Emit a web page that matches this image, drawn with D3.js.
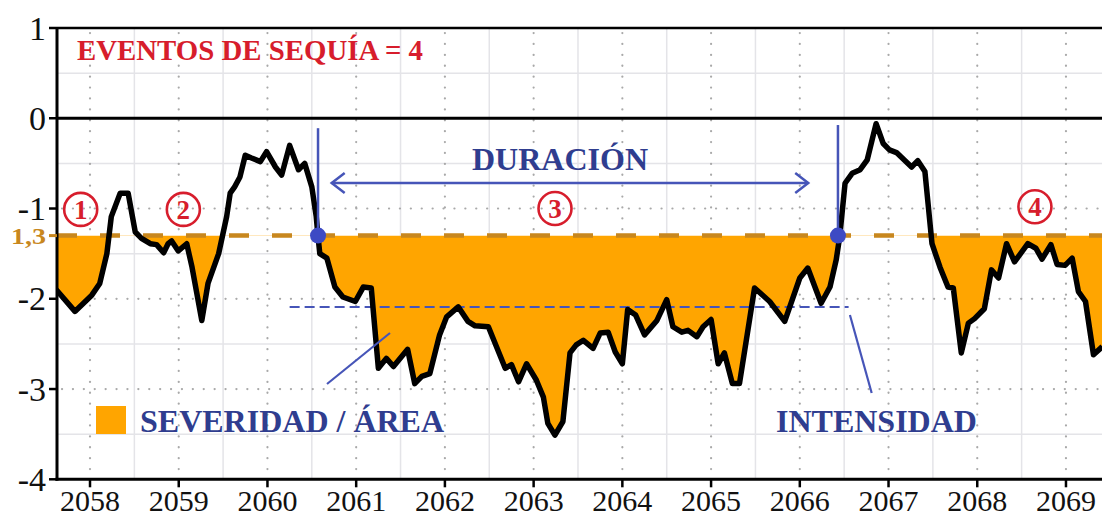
<!DOCTYPE html>
<html><head><meta charset="utf-8">
<script src="https://cdn.jsdelivr.net/npm/d3@7"></script>
<style>body{margin:0;background:#fff}svg{display:block}</style>
</head><body><svg id="c" width="1102" height="517"></svg>
<script>
// ---------- data ----------
const years = [2057.62,2057.83,2058.02,2058.11,2058.19,2058.24,2058.34,2058.43,2058.51,2058.58,
  2058.68,2058.75,2058.83,2058.88,2058.92,2058.995,2059.09,2059.15,2059.26,2059.33,
  2059.45,2059.54,2059.58,2059.63,2059.69,2059.75,2059.82,2059.92,2059.99,2060.09,
  2060.16,2060.25,2060.35,2060.42,2060.50,2060.55,2060.57,2060.59,2060.67,2060.76,
  2060.85,2060.99,2061.08,2061.17,2061.25,2061.34,2061.42,2061.58,2061.66,2061.74,
  2061.83,2061.94,2062.02,2062.15,2062.26,2062.34,2062.49,2062.68,2062.75,2062.83,
  2062.92,2063.03,2063.11,2063.16,2063.24,2063.33,2063.41,2063.48,2063.56,2063.67,
  2063.75,2063.84,2063.92,2064.00,2064.06,2064.15,2064.25,2064.39,2064.50,2064.57,
  2064.67,2064.74,2064.84,2064.91,2065.00,2065.08,2065.15,2065.24,2065.32,2065.49,
  2065.66,2065.83,2066.00,2066.09,2066.24,2066.34,2066.41,2066.45,2066.51,2066.59,
  2066.68,2066.76,2066.86,2066.94,2067.01,2067.09,2067.26,2067.33,2067.41,2067.49,
  2067.58,2067.67,2067.73,2067.82,2067.90,2067.97,2068.08,2068.16,2068.24,2068.33,
  2068.42,2068.57,2068.66,2068.73,2068.83,2068.90,2068.99,2069.07,2069.14,2069.22,
  2069.31,2069.41];
const spi = [-1.90,-2.14,-1.96,-1.83,-1.50,-1.09,-0.83,-0.83,-1.26,-1.33,
  -1.39,-1.40,-1.49,-1.39,-1.36,-1.47,-1.39,-1.65,-2.24,-1.83,
  -1.50,-1.09,-0.83,-0.76,-0.65,-0.41,-0.44,-0.48,-0.37,-0.54,
  -0.63,-0.30,-0.57,-0.50,-0.76,-1.09,-1.31,-1.50,-1.55,-1.87,
  -1.98,-2.03,-1.87,-1.88,-2.77,-2.66,-2.75,-2.56,-2.94,-2.86,
  -2.83,-2.40,-2.20,-2.09,-2.25,-2.30,-2.31,-2.77,-2.73,-2.92,
  -2.72,-2.90,-3.09,-3.38,-3.51,-3.36,-2.60,-2.51,-2.46,-2.55,
  -2.38,-2.37,-2.59,-2.72,-2.12,-2.18,-2.40,-2.24,-2.01,-2.31,
  -2.37,-2.35,-2.42,-2.31,-2.23,-2.72,-2.60,-2.94,-2.94,-1.88,
  -2.03,-2.25,-1.77,-1.66,-2.05,-1.87,-1.57,-1.31,-0.72,-0.61,
  -0.57,-0.46,-0.06,-0.28,-0.35,-0.38,-0.54,-0.47,-0.59,-1.39,
  -1.65,-1.87,-1.88,-2.60,-2.27,-2.22,-2.11,-1.68,-1.77,-1.39,
  -1.59,-1.39,-1.44,-1.56,-1.40,-1.62,-1.63,-1.55,-1.92,-2.03,
  -2.62,-2.53];
const yTicks = [1, 0, -1, -2, -3, -4];
const yTickLabels = ["1", "0", "-1", "-2", "-3", "-4"];
const xTicks = [2058,2059,2060,2061,2062,2063,2064,2065,2066,2067,2068,2069];
const threshold = -1.3;
const thresholdLabel = "1,3";
const intensity = -2.09;
const intensitySpan = [2060.25, 2066.55];
const eventBounds = [2060.57, 2066.43];
const eventNumbers = ["1","2","3","4"];
const eventLabelT = [2057.895, 2059.052, 2063.241, 2068.65];
const eventLabelV = [-1.01, -1.01, -1.0, -0.98];
const title = "EVENTOS DE SEQUÍA = 4";

// ---------- layout ----------
const svg = d3.select("#c");
const L = 57, R = 1102, T = 28, B = 479.3;
const x = d3.scaleLinear().domain([2057.628, 2069.406]).range([L, R]);
const y = d3.scaleLinear().domain([-4, 1]).range([B, T]);
const serif = "'Liberation Serif','Times New Roman',serif";
const blueText = "#2f3d8f", blueLine = "#4655b8", red = "#d71d2c", brown = "#c8871e", orange = "#FFA500";

svg.append("defs").append("clipPath").attr("id","plot")
  .append("rect").attr("x",L).attr("y",T).attr("width",R-L).attr("height",B-T);
svg.select("defs").append("clipPath").attr("id","below")
  .append("rect").attr("x",L).attr("y",y(threshold)).attr("width",R-L).attr("height",B-y(threshold));

// light solid grid at halves
const g = svg.append("g");
const halfX = d3.range(2058.5, 2069.5, 1);
const halfY = [0.5, -0.5, -1.5, -2.5, -3.5];
g.selectAll(".hx").data(halfX).join("line")
  .attr("x1", d=>x(d)).attr("x2", d=>x(d)).attr("y1", T).attr("y2", B)
  .attr("stroke", "#e4e4e8").attr("stroke-width", 1.5);
g.selectAll(".hy").data(halfY).join("line")
  .attr("x1", L).attr("x2", R).attr("y1", d=>y(d)).attr("y2", d=>y(d))
  .attr("stroke", "#e4e4e8").attr("stroke-width", 1.5);
// dotted grid
g.selectAll(".dx").data(xTicks).join("line")
  .attr("x1", d=>x(d)).attr("x2", d=>x(d)).attr("y1", T+5).attr("y2", B)
  .attr("stroke", "#a9a9a9").attr("stroke-width", 2.2).attr("stroke-linecap","round")
  .attr("stroke-dasharray","0.1 10.8");
g.selectAll(".dy").data([-1,-2,-3]).join("line")
  .attr("x1", L+5).attr("x2", R).attr("y1", d=>y(d)).attr("y2", d=>y(d))
  .attr("stroke", "#a9a9a9").attr("stroke-width", 2.2).attr("stroke-linecap","round")
  .attr("stroke-dasharray","0.1 10.8");

const pts = years.map((t,i)=>[t, spi[i]]);

// fill (severity)
const area = d3.area().x(d=>x(d[0])).y0(y(threshold)).y1(d=>y(d[1]));
svg.append("g").attr("clip-path","url(#below)")
  .append("path").datum(pts).attr("d", area).attr("fill", orange);

// zero line & top border
svg.append("line").attr("x1",L).attr("x2",R).attr("y1",y(0)).attr("y2",y(0))
  .attr("stroke","#000").attr("stroke-width",3);
svg.append("line").attr("x1",L).attr("x2",R).attr("y1",T).attr("y2",T)
  .attr("stroke","#000").attr("stroke-width",2.5);

// threshold dashed line
svg.append("line").attr("x1",L).attr("x2",R).attr("y1",y(threshold)).attr("y2",y(threshold))
  .attr("stroke",brown).attr("stroke-width",4.5).attr("stroke-dasharray","20 23");

// intensity dashed line
svg.append("line").attr("x1",x(intensitySpan[0])).attr("x2",x(intensitySpan[1]))
  .attr("y1",y(intensity)).attr("y2",y(intensity))
  .attr("stroke",blueLine).attr("stroke-width",2).attr("stroke-dasharray","10 5");

// SPI line
const line = d3.line().x(d=>x(d[0])).y(d=>y(d[1]));
svg.append("g").attr("clip-path","url(#plot)")
  .append("path").datum(pts).attr("d", line).attr("fill","none")
  .attr("stroke","#000").attr("stroke-width",5.5).attr("stroke-linejoin","round");

// duration markers
const ann = svg.append("g");
[[eventBounds[0], -0.11],[eventBounds[1], -0.075]].forEach(([t,top])=>{
  ann.append("line").attr("x1",x(t)).attr("x2",x(t)).attr("y1",y(top)).attr("y2",y(threshold))
    .attr("stroke",blueLine).attr("stroke-width",2.5);
});
const arrV = -0.717, a0 = x(2060.724), a1 = x(2066.095), ay = y(arrV);
ann.append("line").attr("x1",a0).attr("x2",a1).attr("y1",ay).attr("y2",ay)
  .attr("stroke",blueLine).attr("stroke-width",2.5);
ann.append("path").attr("d",`M${a0+13},${ay-10}L${a0},${ay}L${a0+13},${ay+10}`)
  .attr("fill","none").attr("stroke",blueLine).attr("stroke-width",2.5);
ann.append("path").attr("d",`M${a1-13},${ay-10}L${a1},${ay}L${a1-13},${ay+10}`)
  .attr("fill","none").attr("stroke",blueLine).attr("stroke-width",2.5);
eventBounds.forEach(t=>{
  ann.append("circle").attr("cx",x(t)).attr("cy",y(threshold)).attr("r",8).attr("fill","#3d4ac4");
});
// pointer lines
ann.append("line").attr("x1",x(2060.671)).attr("y1",y(-2.944)).attr("x2",x(2061.381)).attr("y2",y(-2.379))
  .attr("stroke",blueLine).attr("stroke-width",2.2);
ann.append("line").attr("x1",x(2066.565)).attr("y1",y(-2.18)).attr("x2",x(2066.81)).attr("y2",y(-3.044))
  .attr("stroke",blueLine).attr("stroke-width",2.2);

// axes
svg.append("line").attr("x1",L).attr("x2",L).attr("y1",T-1).attr("y2",B+1.5)
  .attr("stroke","#000").attr("stroke-width",3);
svg.append("line").attr("x1",L-1.5).attr("x2",R).attr("y1",B).attr("y2",B)
  .attr("stroke","#000").attr("stroke-width",3);
svg.selectAll(".yt").data(yTicks).join("line")
  .attr("x1",L-8).attr("x2",L).attr("y1",d=>y(d)).attr("y2",d=>y(d))
  .attr("stroke","#000").attr("stroke-width",2.5);
svg.selectAll(".ytl").data(yTicks).join("text")
  .attr("x",46).attr("y",d=>y(d)).attr("dy","0.34em").attr("text-anchor","end")
  .attr("font-family",serif).attr("font-size",34).attr("fill","#111")
  .text((d,i)=>yTickLabels[i]);
svg.selectAll(".xt").data(xTicks).join("line")
  .attr("x1",d=>x(d)).attr("x2",d=>x(d)).attr("y1",B).attr("y2",B+8)
  .attr("stroke","#000").attr("stroke-width",2.5);
svg.selectAll(".xtl").data(xTicks).join("text")
  .attr("x",d=>x(d)).attr("y",510.5).attr("text-anchor","middle")
  .attr("font-family",serif).attr("font-size",30).attr("fill","#111")
  .text(d=>d);
// threshold tick + label
svg.append("line").attr("x1",L-8).attr("x2",L).attr("y1",y(threshold)).attr("y2",y(threshold))
  .attr("stroke",brown).attr("stroke-width",3);
svg.append("text").attr("x",46).attr("y",y(threshold)).attr("dy","0.38em").attr("text-anchor","end")
  .attr("font-family",serif).attr("font-weight","bold").attr("font-size",23).attr("fill",brown)
  .attr("textLength",35).attr("lengthAdjust","spacingAndGlyphs")
  .text(thresholdLabel);

// texts
svg.append("text").attr("x",77).attr("y",60)
  .attr("font-family",serif).attr("font-weight","bold").attr("font-size",28.5).attr("fill",red)
  .attr("textLength",346).attr("lengthAdjust","spacingAndGlyphs")
  .text(title);
eventNumbers.forEach((n,i)=>{
  const cx = x(eventLabelT[i]), cy = y(eventLabelV[i]);
  svg.append("circle").attr("cx",cx).attr("cy",cy).attr("r",16.5).attr("fill","none")
    .attr("stroke",red).attr("stroke-width",2.6);
  svg.append("text").attr("x",cx).attr("y",cy).attr("dy","0.35em").attr("text-anchor","middle")
    .attr("font-family",serif).attr("font-weight","bold").attr("font-size",27).attr("fill",red)
    .text(n);
});
svg.append("text").attr("x",560).attr("y",170).attr("text-anchor","middle")
  .attr("font-family",serif).attr("font-weight","bold").attr("font-size",32).attr("fill",blueText)
  .text("DURACIÓN");
svg.append("rect").attr("x",96).attr("y",406).attr("width",30).attr("height",28).attr("fill",orange);
svg.append("text").attr("x",140).attr("y",432)
  .attr("font-family",serif).attr("font-weight","bold").attr("font-size",32).attr("fill",blueText)
  .text("SEVERIDAD / ÁREA");
svg.append("text").attr("x",776).attr("y",432)
  .attr("font-family",serif).attr("font-weight","bold").attr("font-size",32).attr("fill",blueText)
  .text("INTENSIDAD");
</script></body></html>
